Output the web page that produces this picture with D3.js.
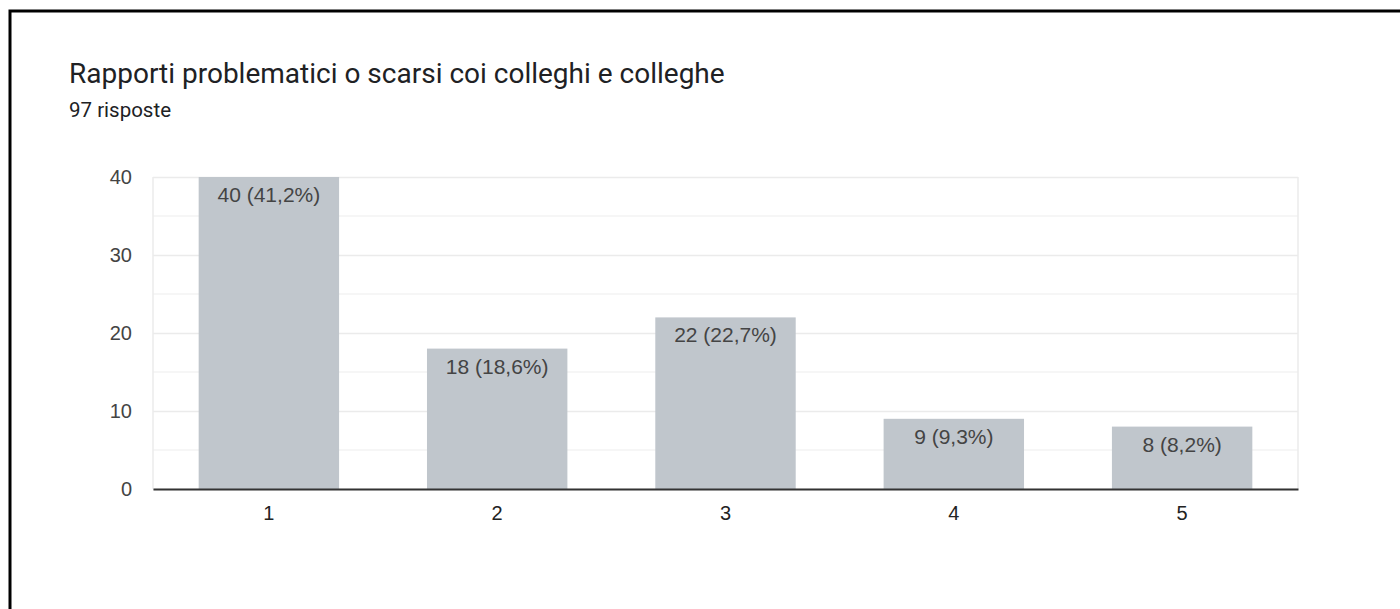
<!DOCTYPE html>
<html>
<head>
<meta charset="utf-8">
<script src="https://cdn.jsdelivr.net/npm/d3@7"></script>
<style>
  body { margin: 0; background: #fff; }
  svg { display: block; }
</style>
</head>
<body>
<svg id="chart"></svg>
<script>
// chart values
const categories = ["1", "2", "3", "4", "5"];
const counts = [40, 18, 22, 9, 8];
const percents = ["41,2%", "18,6%", "22,7%", "9,3%", "8,2%"];
const yTicks = [0, 10, 20, 30, 40];
const title = "Rapporti problematici o scarsi coi colleghi e colleghe";
const subtitle = "97 risposte";

const width = 1400, height = 609;
const margin = {top: 177, right: 102, bottom: 120, left: 153};
const innerW = width - margin.left - margin.right;
const innerH = 489 - margin.top;

const svg = d3.select('#chart')
    .attr('width', width)
    .attr('height', height);

// frame of the card
svg.append('rect')
    .attr('x', 10).attr('y', 11)
    .attr('width', 1400).attr('height', 700)
    .attr('fill', 'none')
    .attr('stroke', '#000')
    .attr('stroke-width', 3);

svg.append('text')
    .attr('x', 69).attr('y', 83)
    .style('font-family', 'Roboto, sans-serif')
    .style('font-size', '28px')
    .attr('fill', '#202124')
    .text(title);

svg.append('text')
    .attr('x', 69).attr('y', 117)
    .style('font-family', 'Roboto, sans-serif')
    .style('font-size', '20.5px')
    .attr('fill', '#202124')
    .text(subtitle);

const chart = svg.append('g')
    .attr('transform', `translate(${margin.left},${margin.top})`);

const x = d3.scaleBand()
    .domain(categories)
    .range([0, innerW])
    .paddingInner(0.385)
    .paddingOuter(0.2);

const y = d3.scaleLinear()
    .domain([0, 40])
    .range([innerH, 0]);

// minor gridlines every 5
chart.append('g')
    .selectAll('line')
    .data(d3.range(5, 40, 10))
    .join('line')
    .attr('x1', 0).attr('x2', innerW)
    .attr('y1', d => y(d)).attr('y2', d => y(d))
    .attr('stroke', '#f3f3f3')
    .attr('stroke-width', 1.5);

// major gridlines
const yAxis = d3.axisLeft(y)
    .tickValues(yTicks)
    .tickSize(-innerW)
    .tickPadding(21);

chart.append('g')
    .call(yAxis)
    .call(g => g.select('.domain').remove())
    .call(g => g.selectAll('.tick line').attr('stroke', '#ebebeb').attr('stroke-width', 1.5))
    .call(g => g.selectAll('.tick text')
        .attr('fill', '#444')
        .style('font-family', 'Arial, "Liberation Sans", sans-serif')
        .style('font-size', '20px'));

// left and right edges of the plot
chart.append('line')
    .attr('x1', 0).attr('x2', 0).attr('y1', 0).attr('y2', innerH)
    .attr('stroke', '#ebebeb').attr('stroke-width', 1.5);
chart.append('line')
    .attr('x1', innerW).attr('x2', innerW).attr('y1', 0).attr('y2', innerH)
    .attr('stroke', '#ebebeb').attr('stroke-width', 1.5);

// bars
chart.selectAll('.bar')
    .data(categories)
    .join('rect')
    .attr('class', 'bar')
    .attr('x', d => x(d))
    .attr('y', (d, i) => y(counts[i]))
    .attr('width', x.bandwidth())
    .attr('height', (d, i) => innerH - y(counts[i]))
    .attr('fill', '#c0c6cc');

// bar labels
chart.selectAll('.bar-label')
    .data(categories)
    .join('text')
    .attr('class', 'bar-label')
    .attr('x', d => x(d) + x.bandwidth() / 2)
    .attr('y', (d, i) => y(counts[i]) + 25)
    .attr('text-anchor', 'middle')
    .attr('fill', '#444')
    .style('font-family', 'Arial, "Liberation Sans", sans-serif')
    .style('font-size', '21px')
    .text((d, i) => `${counts[i]} (${percents[i]})`);

// x axis
const xAxis = d3.axisBottom(x)
    .tickSize(0)
    .tickPadding(17);

chart.append('g')
    .attr('transform', `translate(0,${innerH})`)
    .call(xAxis)
    .call(g => g.select('.domain').attr('stroke', '#333').attr('stroke-width', 2))
    .call(g => g.selectAll('.tick text')
        .attr('fill', '#222')
        .style('font-family', 'Arial, "Liberation Sans", sans-serif')
        .style('font-size', '20px'));
</script>
</body>
</html>
